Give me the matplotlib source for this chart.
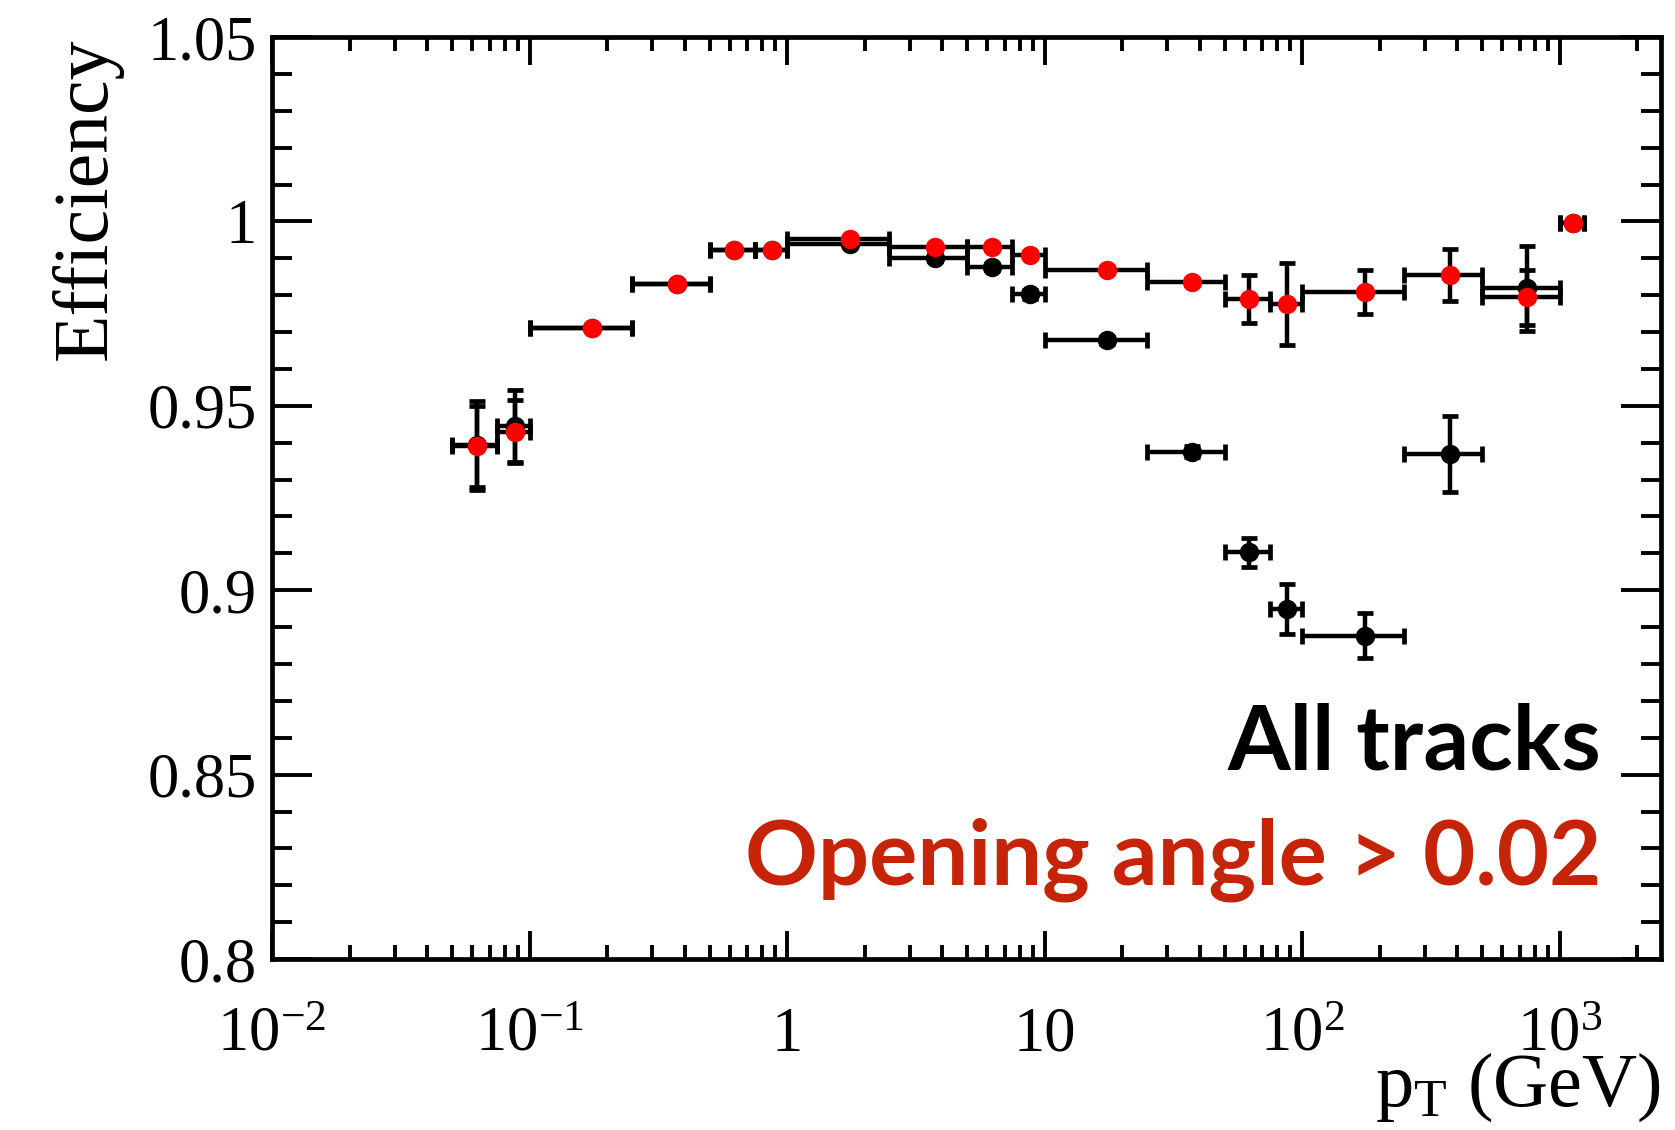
"""Tracking efficiency vs pT: all tracks vs opening angle > 0.02."""

import matplotlib
matplotlib.use("Agg")
import matplotlib.pyplot as plt
from matplotlib.ticker import FixedLocator, NullFormatter, LogLocator

plt.rcParams["font.family"] = ["Liberation Serif", "DejaVu Serif"]
plt.rcParams["mathtext.fontset"] = "custom"
plt.rcParams["mathtext.rm"] = "Liberation Serif"
plt.rcParams["mathtext.it"] = "Liberation Serif:italic"
plt.rcParams["mathtext.bf"] = "Liberation Serif:bold"

# bin centres and half widths (GeV)
pt_center = [0.0625, 0.0875, 0.175, 0.375, 0.625, 0.875, 1.75, 3.75, 6.25, 8.75,
             17.5, 37.5, 62.5, 87.5, 175, 375, 750, 1125]
pt_halfwidth = [0.0125, 0.0125, 0.075, 0.125, 0.125, 0.125, 0.75, 1.25, 1.25, 1.25,
                7.5, 12.5, 12.5, 12.5, 75, 125, 250, 125]

# all tracks (black)
eff_all = [0.9393, 0.9445, 0.9710, 0.9830, 0.9923, 0.9923, 0.9940, 0.9900, 0.9877, 0.9803,
           0.9678, 0.9375, 0.9103, 0.8949, 0.8877, 0.9370, 0.9819, 0.9997]
err_all = [0.0120, 0.0097, 0.0008, 0.0006, 0.0005, 0.0005, 0.0004, 0.0006, 0.0008, 0.0012,
           0.0010, 0.0015, 0.0040, 0.0067, 0.0060, 0.0103, 0.0115, 0.0005]

# opening angle > 0.02 (red)
eff_cut = [0.9390, 0.9430, 0.9710, 0.9831, 0.9923, 0.9923, 0.9952, 0.9932, 0.9932, 0.9909,
           0.9869, 0.9836, 0.9789, 0.9776, 0.9808, 0.9855, 0.9794, 0.9997]
err_cut = [0.0110, 0.0085, 0.0008, 0.0006, 0.0005, 0.0005, 0.0004, 0.0005, 0.0006, 0.0008,
           0.0007, 0.0008, 0.0065, 0.0110, 0.0060, 0.0070, 0.0075, 0.0005]

x_ticks = [1e-2, 1e-1, 1, 10, 1e2, 1e3]
x_ticklabels = [r"$10^{-2}$", r"$10^{-1}$", "1", "10", r"$10^{2}$", r"$10^{3}$"]
y_ticks = [0.8, 0.85, 0.9, 0.95, 1.0, 1.05]
y_ticklabels = ["0.8", "0.85", "0.9", "0.95", "1", "1.05"]

RED_TEXT = "#C62408"


def main():
    fig = plt.figure(figsize=(16.75, 11.3), dpi=100)
    ax = fig.add_axes([0.1624, 0.1513, 0.8293, 0.8159])

    ebar = dict(fmt="none", ecolor="black", elinewidth=3.2, capsize=5.5, capthick=3.4)
    ax.errorbar(pt_center, eff_all, xerr=pt_halfwidth, yerr=err_all, zorder=2, **ebar)
    ax.plot(pt_center, eff_all, "o", color="black", ms=13, zorder=3)
    ax.errorbar(pt_center, eff_cut, xerr=pt_halfwidth, yerr=err_cut, zorder=4, **ebar)
    ax.plot(pt_center, eff_cut, "o", color="#FF0000", ms=13, zorder=5)

    ax.set_xscale("log")
    ax.set_xlim(0.01, 2480)
    ax.set_ylim(0.8, 1.05)

    ax.xaxis.set_major_locator(FixedLocator(x_ticks))
    ax.set_xticklabels(x_ticklabels)
    ax.xaxis.set_minor_locator(LogLocator(base=10, subs=range(2, 10), numticks=20))
    ax.xaxis.set_minor_formatter(NullFormatter())
    ax.yaxis.set_major_locator(FixedLocator(y_ticks))
    ax.set_yticklabels(y_ticklabels)
    ax.yaxis.set_minor_locator(FixedLocator([0.8 + 0.01 * i for i in range(26)]))

    for s in ax.spines.values():
        s.set_linewidth(3.4)
    ax.tick_params(which="both", direction="in", top=True, right=True, width=2.8)
    ax.tick_params(axis="y", which="major", length=29, labelsize=45, pad=11)
    ax.tick_params(axis="y", which="minor", length=14.5)
    ax.tick_params(axis="x", which="major", length=20, labelsize=45, pad=66)
    ax.tick_params(axis="x", which="minor", length=10)
    for lab in ax.get_xticklabels():
        lab.set_verticalalignment("baseline")

    ax.set_ylabel("Efficiency", fontsize=56, loc="top", labelpad=18)
    ax.set_xlabel(r"$\mathrm{p}_{\mathrm{T}}$ (GeV)", fontsize=55, loc="right")
    ax.xaxis.set_label_coords(1.0, -0.099)

    ann = dict(transform=ax.transAxes, ha="right", va="baseline", fontsize=65,
               fontweight="bold", family=["Lato", "DejaVu Sans"])
    ax.text(0.957, 0.206, "All tracks", color="black", **ann)
    ax.text(0.957, 0.081, "Opening angle > 0.02", color=RED_TEXT, **ann)

    fig.savefig("out.png", dpi=100)


if __name__ == "__main__":
    main()
